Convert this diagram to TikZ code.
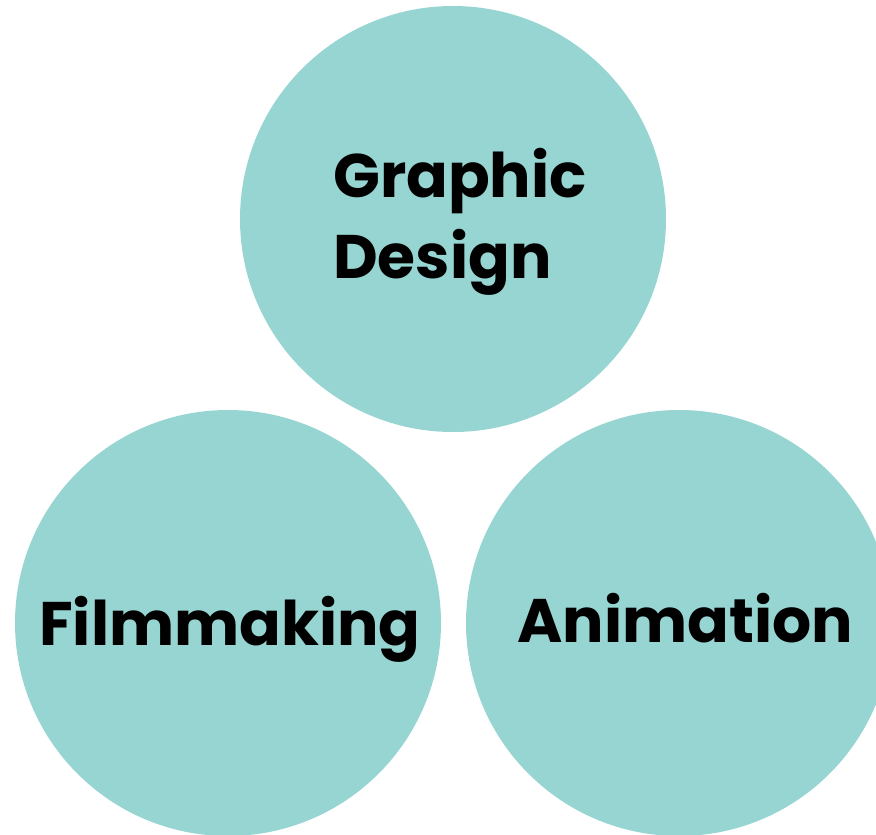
\documentclass[tikz,border=0pt]{standalone}
\usepackage{fontspec}
\setmainfont{Poppins}
\usepackage{tikz}
\usepackage{color}
\definecolor{teal}{HTML}{97D5D2}

\tikzset{field/.style={circle, fill=teal, inner sep=0pt, minimum size=426pt},
  word/.style={inner sep=0pt, font=\fontsize{61.5}{81}\selectfont\bfseries, align=left}}

\begin{document}
\begin{tikzpicture}[x=1pt, y=-1pt]
          \useasboundingbox (0, 0) rectangle (876, 835);
          \clip (0, 0) rectangle (876, 835);
          \node[field] (design) at (453, 219) {};
          \node[field] (film) at (228, 623) {};
          \node[field] (anim) at (679, 623) {};
          \node[word, anchor=base west] (designtext) at (333, 278) {Graphic\\Design};
          \node[word, anchor=base] (filmtext) at (230, 645) {Filmmaking};
          \node[word, anchor=base] (animtext) at (685, 642) {Animation};
         \end{tikzpicture}
\end{document}
